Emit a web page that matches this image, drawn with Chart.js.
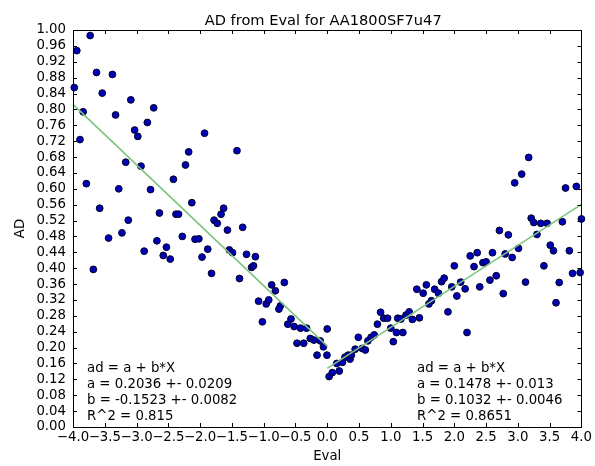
<!DOCTYPE html>
<html><head><meta charset="utf-8">
<script src="https://cdn.jsdelivr.net/npm/chart.js@4.4.0/dist/chart.umd.min.js"></script>
<style>html,body{margin:0;padding:0;background:#fff}#wrap{width:595px;height:466px;position:relative}</style>
</head><body><div id="wrap"><canvas id="c" width="595" height="466"></canvas></div>
<script>
const chartTitle = 'AD from Eval for AA1800SF7u47';
const xLabel = 'Eval';
const yLabel = 'AD';

const leftX = [-3.73,-3.94,-3.63,-3.38,-3.98,-3.54,-3.09,-3.84,-2.73,-3.33,-2.83,-3.03,-2.98,-3.89,-1.93,-2.18,-1.42,-3.17,-2.93,-2.23,
  -3.79,-2.42,-3.28,-2.78,-2.13,-3.58,-1.63,-2.64,-2.38,-2.34,-1.67,-3.13,-1.78,-1.73,-1.57,-1.33,-3.23,-3.44,-2.28,-2.08,
  -2.02,-2.68,-2.53,-1.88,-2.88,-1.54,-1.49,-1.27,-1.13,-2.58,-2.47,-1.97,-1.19,-1.16,-3.68,-1.82,-1.38,-1.08,-0.874,-0.816,
  -0.675,-0.96,-0.92,-0.737,-0.76,-1.02,-0.57,-0.62,-0.52,-0.42,-0.325,0.0,-0.267,-0.21,-0.11,-0.475,-0.37,-0.06,-0.16,-0.004];
const leftY = [0.986,0.948,0.893,0.888,0.855,0.841,0.824,0.794,0.804,0.786,0.767,0.748,0.732,0.724,0.740,0.693,0.696,0.667,0.657,0.660,
  0.613,0.624,0.600,0.598,0.565,0.551,0.551,0.539,0.536,0.536,0.536,0.521,0.521,0.513,0.496,0.503,0.489,0.476,0.480,0.473,
  0.474,0.469,0.453,0.448,0.443,0.446,0.439,0.435,0.429,0.432,0.423,0.428,0.402,0.406,0.397,0.387,0.374,0.317,0.358,0.343,
  0.364,0.310,0.320,0.305,0.297,0.265,0.272,0.259,0.253,0.249,0.249,0.247,0.223,0.219,0.217,0.211,0.211,0.202,0.181,0.181];

const rightX = [0.03,0.08,0.19,0.15,0.24,0.28,0.36,0.33,0.38,0.44,0.55,0.60,0.49,0.64,0.69,0.74,0.79,0.84,0.89,0.95,
  1.00,1.04,1.09,1.11,1.16,1.19,1.24,1.29,1.34,1.45,1.41,1.51,1.56,1.60,1.64,1.69,1.75,1.80,1.84,1.90,
  1.96,2.00,2.04,2.10,2.17,2.20,2.25,2.31,2.36,2.40,2.45,2.50,2.56,2.60,2.66,2.71,2.77,2.80,2.85,2.91,
  2.95,3.01,3.06,3.12,3.17,3.21,3.25,3.30,3.36,3.41,3.46,3.51,3.56,3.60,3.65,3.70,3.75,3.81,3.86,3.92,3.98,4.0];
const rightY = [0.127,0.137,0.141,0.160,0.163,0.176,0.171,0.181,0.181,0.196,0.198,0.194,0.226,0.217,0.226,0.232,0.259,0.289,0.274,0.274,
  0.249,0.215,0.238,0.274,0.272,0.238,0.282,0.290,0.271,0.275,0.347,0.337,0.358,0.310,0.318,0.347,0.337,0.366,0.375,0.290,
  0.353,0.406,0.330,0.365,0.348,0.238,0.431,0.404,0.439,0.353,0.414,0.416,0.370,0.439,0.381,0.495,0.336,0.436,0.484,0.427,
  0.615,0.450,0.637,0.365,0.679,0.526,0.515,0.485,0.513,0.406,0.513,0.458,0.444,0.313,0.364,0.517,0.602,0.444,0.387,0.606,0.389,0.524];

const leftFitX = [-4.0, 0.0];
const leftFitY = [0.8128, 0.2036];
const rightFitX = [0.0, 4.0];
const rightFitY = [0.1478, 0.5606];

const leftNote = ['ad = a + b*X','a = 0.2036 +- 0.0209','b = -0.1523 +- 0.0082','R^2 = 0.815'];
const rightNote = ['ad = a + b*X','a = 0.1478 +- 0.013','b = 0.1032 +- 0.0046','R^2 = 0.8651'];

const xTicks = [-4.0,-3.5,-3.0,-2.5,-2.0,-1.5,-1.0,-0.5,0.0,0.5,1.0,1.5,2.0,2.5,3.0,3.5,4.0];
const yTicks = [0.00,0.04,0.08,0.12,0.16,0.20,0.24,0.28,0.32,0.36,0.40,0.44,0.48,0.52,0.56,0.60,0.64,0.68,0.72,0.76,0.80,0.84,0.88,0.92,0.96,1.00];

const FONT = '"DejaVu Sans", "Bitstream Vera Sans", sans-serif';
const zip = (xs, ys) => xs.map((v, i) => ({x: v, y: ys[i]}));

const framePlugin = {
  id: 'frame',
  afterDraw(chart) {
    const {ctx, chartArea: a, scales: {x, y}} = chart;
    ctx.save();
    ctx.strokeStyle = '#000';
    ctx.lineWidth = 1;
    ctx.beginPath();
    xTicks.forEach(v => {
      const px = Math.round(x.getPixelForValue(v)) + 0.5;
      ctx.moveTo(px, a.bottom); ctx.lineTo(px, a.bottom - 4);
      ctx.moveTo(px, a.top); ctx.lineTo(px, a.top + 4);
    });
    yTicks.forEach(v => {
      const py = Math.round(y.getPixelForValue(v)) + 0.5;
      ctx.moveTo(a.left, py); ctx.lineTo(a.left + 4, py);
      ctx.moveTo(a.right, py); ctx.lineTo(a.right - 4, py);
    });
    ctx.stroke();
    ctx.strokeRect(Math.round(a.left) + 0.5, Math.round(a.top) + 0.5, Math.round(a.right - a.left), Math.round(a.bottom - a.top));
    ctx.fillStyle = '#000';
    ctx.font = '13.3px ' + FONT;
    ctx.textBaseline = 'middle';
    ctx.textAlign = 'left';
    leftNote.forEach((t, i) => ctx.fillText(t, a.left + 14, a.bottom - 58 + i * 16));
    rightNote.forEach((t, i) => ctx.fillText(t, a.left + 344, a.bottom - 58 + i * 16));
    ctx.font = '14.6px ' + FONT;
    ctx.textAlign = 'center';
    ctx.textBaseline = 'alphabetic';
    ctx.fillText(chartTitle, (a.left + a.right) / 2 - 4, 25);
    ctx.restore();
  }
};

const pointStyle = {
  showLine: false, pointRadius: 3.4, pointHoverRadius: 3.4,
  backgroundColor: '#0000b4', borderColor: '#00002a', pointBorderWidth: 1, clip: false
};
const lineStyle = {
  showLine: true, pointRadius: 0, borderColor: '#7cc47c', borderWidth: 1.6, fill: false, clip: false
};

new Chart(document.getElementById('c'), {
  type: 'scatter',
  data: {
    datasets: [
      Object.assign({label: 'fit left', data: zip(leftFitX, leftFitY)}, lineStyle),
      Object.assign({label: 'fit right', data: zip(rightFitX, rightFitY)}, lineStyle),
      Object.assign({label: 'left', data: zip(leftX, leftY)}, pointStyle),
      Object.assign({label: 'right', data: zip(rightX, rightY)}, pointStyle)
    ]
  },
  options: {
    responsive: false, animation: false, devicePixelRatio: 1,
    layout: {padding: {left: 0, right: 12, top: 30, bottom: 0}},
    plugins: {
      legend: {display: false}, tooltip: {enabled: false},
      title: {display: false}
    },
    scales: {
      x: {
        type: 'linear', min: -4, max: 4,
        afterBuildTicks: s => { s.ticks = xTicks.map(v => ({value: v})); },
        afterFit: s => { s.height = 39; },
        grid: {display: false, drawTicks: false},
        border: {display: false},
        ticks: {autoSkip: false, maxRotation: 0, minRotation: 0, padding: 3, color: '#000',
          font: {family: FONT, size: 13.3},
          callback: v => v.toFixed(1).replace('-', '\u2212')},
        title: {display: true, text: xLabel, color: '#000', font: {family: FONT, size: 13.3}, padding: {top: 0, bottom: 1.5}}
      },
      y: {
        type: 'linear', min: 0, max: 1,
        afterBuildTicks: s => { s.ticks = yTicks.map(v => ({value: v})); },
        afterFit: s => { s.width = 73; },
        grid: {display: false, drawTicks: false},
        border: {display: false},
        ticks: {autoSkip: false, padding: 7, color: '#000',
          font: {family: FONT, size: 13.3},
          callback: v => v.toFixed(2)},
        title: {display: true, text: yLabel, color: '#000', font: {family: FONT, size: 13.3}, padding: {top: 13, bottom: 0}}
      }
    }
  },
  plugins: [framePlugin]
});
</script>
</body></html>
